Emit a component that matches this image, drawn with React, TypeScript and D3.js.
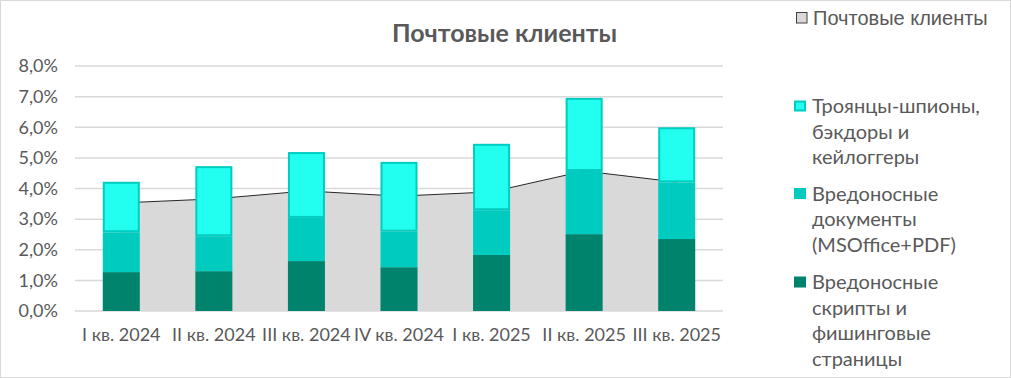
import React, { useEffect } from "react";
import * as d3 from "d3";

const categories = ["I кв. 2024", "II кв. 2024", "III кв. 2024", "IV кв. 2024", "I кв. 2025", "II кв. 2025", "III кв. 2025"];
const scripts = [1.27, 1.30, 1.63, 1.43, 1.83, 2.51, 2.35];
const documents = [1.30, 1.14, 1.41, 1.16, 1.46, 2.06, 1.85];
const trojans = [1.65, 2.29, 2.15, 2.28, 2.17, 2.39, 1.80];
const mailClients = [3.53, 3.66, 3.92, 3.75, 3.89, 4.57, 4.21];
const yTicks = [0, 1, 2, 3, 4, 5, 6, 7, 8];

const W = 1011, H = 378;
const M = { left: 75, right: 288, top: 66, bottom: 67 };
const FONT = "Lato, 'Noto Sans', sans-serif";
const NARROW = "'Liberation Sans', Arial, sans-serif";
const TXT = "#595959";

export default function App() {
  useEffect(() => {
    document.body.style.margin = "0";
  }, []);

  const x = d3.scaleBand().domain(categories).range([M.left, W - M.right]).paddingInner(0.6).paddingOuter(0.3);
  const xc = (i: number) => (x(categories[i]) as number) + x.bandwidth() / 2;
  const y = d3.scaleLinear().domain([0, 8]).range([H - M.bottom, M.top]);

  const area = d3.area<number>().x((_, i) => xc(i)).y0(y(0)).y1((d) => y(d));
  const line = d3.line<number>().x((_, i) => xc(i)).y((d) => y(d));

  const stackData = categories.map((c, i) => ({ c, s: scripts[i], d: documents[i], t: trojans[i] }));
  const stack = d3.stack<any>().keys(["s", "d", "t"])(stackData);
  const colors = ["#00836d", "#00cbbf", "#22fff0"];

  const legendItems = [
    { lines: ["Троянцы-шпионы,", "бэкдоры и", "кейлоггеры"], fill: "#22fff0", stroke: "#00cdc0", top: 106 },
    { lines: ["Вредоносные", "документы", "(MSOffice+PDF)"], fill: "#00cbbf", stroke: "none", top: 193.5 },
    { lines: ["Вредоносные", "скрипты и", "фишинговые", "страницы"], fill: "#00836d", stroke: "none", top: 282 },
  ];

  return (
    <svg width={W} height={H} style={{ display: "block" }}>
      <rect x={0.5} y={0.5} width={W - 1} height={H - 1} fill="#fff" stroke="#d9d9d9" />
      <text x={504.5} y={41.7} textAnchor="middle" style={{ fontFamily: FONT }} fontWeight="bold" fontSize={25} fill={TXT}>
        Почтовые клиенты
      </text>
      {yTicks.map((t) => (
        <g key={t}>
          <line x1={M.left} x2={W - M.right} y1={y(t)} y2={y(t)} stroke="#d9d9d9" strokeWidth={1.5} />
          <text x={58} y={y(t)} dy="0.35em" textAnchor="end" style={{ fontFamily: FONT }} fontSize={18} fill={TXT}>
            {d3.format(".1f")(t).replace(".", ",") + "%"}
          </text>
        </g>
      ))}
      <path d={area(mailClients) || ""} fill="#d9d9d9" />
      <path d={line(mailClients) || ""} fill="none" stroke="#262626" strokeWidth={1} />
      {stack.map((layer, li) =>
        layer.map((d, i) => {
          const x0 = x(categories[i]) as number;
          const bw = x.bandwidth();
          if (li === 2) {
            return (
              <rect key={li + "-" + i} x={x0 + 1} y={y(d[1]) + 1} width={bw - 2} height={y(d[0]) - y(d[1]) - 2}
                fill={colors[li]} stroke="#00cdc0" strokeWidth={2} />
            );
          }
          return <rect key={li + "-" + i} x={x0} y={y(d[1])} width={bw} height={y(d[0]) - y(d[1])} fill={colors[li]} />;
        })
      )}
      {categories.map((c, i) => (
        <text key={c} x={xc(i)} y={340.7} textAnchor="middle" style={{ fontFamily: FONT }} fontSize={18} fill={TXT}>
          {c}
        </text>
      ))}
      <rect x={796.5} y={12.5} width={10.5} height={10.5} fill="#d9d9d9" stroke="#404040" strokeWidth={1} />
      <text x={813} y={25} style={{ fontFamily: NARROW }} fontSize={20} fill={TXT}>
        Почтовые клиенты
      </text>
      {legendItems.map((it, k) => (
        <g key={k}>
          <rect x={it.stroke === "none" ? 794 : 795} y={it.top - 5.5 + (it.stroke === "none" ? 0 : 1)} width={it.stroke === "none" ? 12 : 10} height={it.stroke === "none" ? 11 : 9}
            fill={it.fill} stroke={it.stroke} strokeWidth={2} />
          {it.lines.map((l, j) => (
            <text key={j} x={812} y={it.top + j * 25.5} dy="0.35em" style={{ fontFamily: FONT }} fontSize={20} fill={TXT}>
              {l}
            </text>
          ))}
        </g>
      ))}
    </svg>
  );
}
